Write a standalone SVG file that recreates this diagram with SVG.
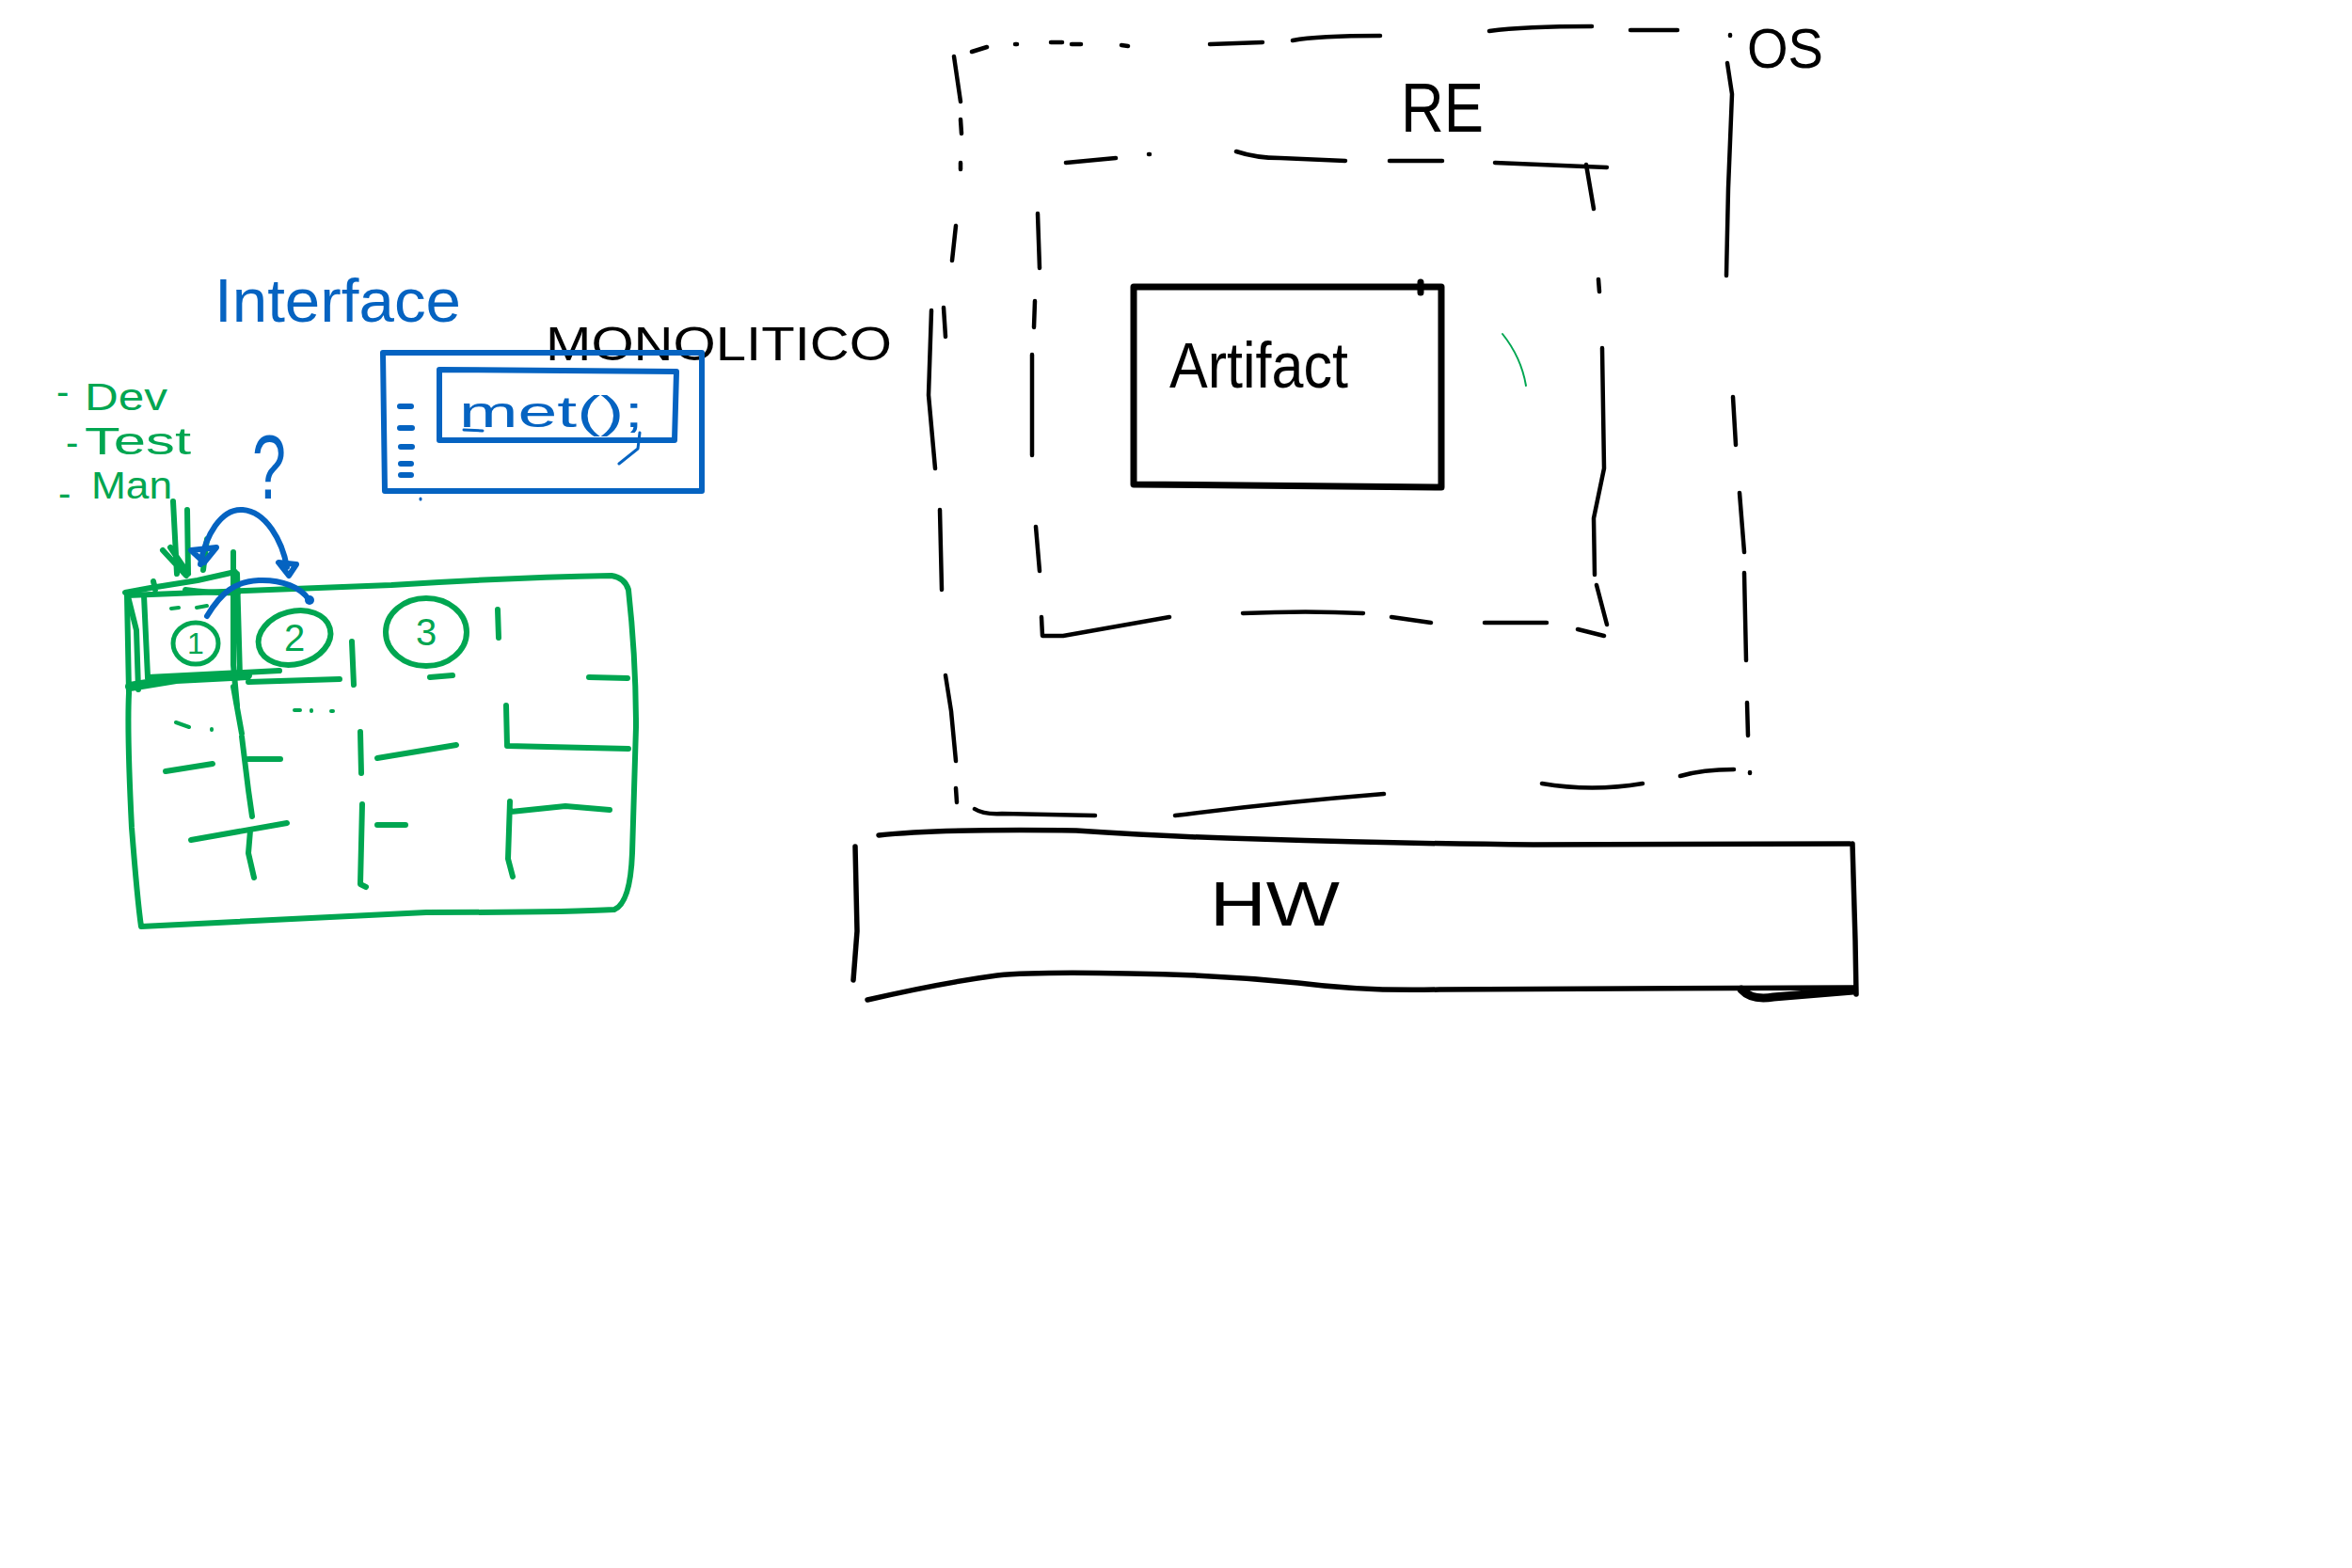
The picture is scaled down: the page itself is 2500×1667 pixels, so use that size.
<svg xmlns="http://www.w3.org/2000/svg" width="2500" height="1667" viewBox="0 0 2500 1667">
<style>
.k{fill:none;stroke:#000;stroke-width:4.5;stroke-linecap:round;stroke-linejoin:round}
.kt{fill:none;stroke:#000;stroke-width:7;stroke-linecap:round;stroke-linejoin:round}
.g{fill:none;stroke:#00a651;stroke-width:6;stroke-linecap:round;stroke-linejoin:round}
.gt{fill:none;stroke:#00a651;stroke-width:10;stroke-linecap:round;stroke-linejoin:round}
.gs{fill:none;stroke:#00a651;stroke-width:4;stroke-linecap:round}
.b{fill:none;stroke:#0563c1;stroke-width:6;stroke-linecap:round;stroke-linejoin:round}
.bs{fill:none;stroke:#0563c1;stroke-width:3;stroke-linecap:round;stroke-linejoin:round}
.tk{font-family:"Liberation Sans",Arial,sans-serif;fill:#000}
.tb{font-family:"Liberation Sans",Arial,sans-serif;fill:#0563c1}
.tg{font-family:"Liberation Sans",Arial,sans-serif;fill:#00a651}
</style>
<rect width="2500" height="1667" fill="#fff"/>

<g id="os">
<path class="k" d="M1033,55 L1049,50 M1079,47 L1081,47 M1117,45 L1129,45 M1139,47 L1149,47 M1192,48 L1199,49 M1286,47 Q1315,46 1342,45 M1374,43 Q1400,38 1467,38 M1583,33 Q1620,28 1692,28 M1733,32 L1783,32"/>
<path class="k" d="M1839,37 L1839,38 M1836,67 L1841,100 L1837,200 L1835,293 M1842,422 L1845,473 M1849,524 L1854,587 M1854,609 L1856,702 M1857,747 L1858,782"/>
<path class="k" d="M1860,821 L1860,822 M1786,825 Q1810,818 1843,818 M1639,833 Q1692,842 1746,833 M1249,867 Q1360,853 1471,844 M1036,860 Q1045,866 1065,865 L1164,867 M1016,838 L1017,853"/>
<path class="k" d="M1005,718 L1011,756 L1016,809 M999,542 L1001,627 M990,330 L987,420 L994,498 M1003,327 L1005,358 M1016,240 L1012,277 M1021,173 L1021,180 M1021,127 L1022,142 M1014,60 L1021,108"/>
<text class="tk" x="1857" y="72" font-size="60" textLength="81" lengthAdjust="spacingAndGlyphs">OS</text>
</g>

<g id="re">
<path class="k" d="M1133,173 L1186,168 M1221,164 L1222,164 M1314,161 Q1335,168 1361,168 L1430,171 M1477,171 L1533,171 M1589,173 L1708,178"/>
<path class="k" d="M1686,175 L1694,222 M1699,297 L1700,310 M1703,370 L1705,498 L1694,551 L1695,611 M1697,622 L1708,664"/>
<path class="k" d="M1107,656 L1108,676 L1130,676 L1243,656 M1321,652 Q1390,649 1449,652 M1479,656 L1521,662 M1578,662 L1644,662 M1677,669 L1705,676"/>
<path class="k" d="M1103,227 L1105,285 M1100,320 L1099,348 M1097,377 L1097,484 M1101,560 L1105,607"/>
<text class="tk" x="1489" y="140" font-size="74" textLength="88" lengthAdjust="spacingAndGlyphs">RE</text>
</g>

<g id="artifact">
<path class="kt" d="M1205,305 L1532,305 L1532,518 L1205,515 Z M1510,300 L1510,311"/>
<text class="tk" x="1243" y="412" font-size="68" textLength="190" lengthAdjust="spacingAndGlyphs">Artifact</text>
<path fill="none" stroke="#00a651" stroke-width="2" stroke-linecap="round" d="M1597,355 Q1617,380 1622,410"/>
</g>

<g id="hw">
<path fill="none" stroke="#000" stroke-width="5.5" stroke-linecap="round" stroke-linejoin="round" d="M934,888 Q1000,881 1144,883 Q1250,890 1337,892 Q1500,897 1630,898 L1966,897 M909,900 L911,990 L907,1042 M1969,897 L1972,1000 L1973,1057 M922,1063 Q1000,1045 1060,1037 Q1100,1033 1200,1035 Q1290,1036 1380,1045 Q1450,1054 1530,1052 L1970,1050"/>
<path fill="none" stroke="#000" stroke-width="9" stroke-linecap="round" d="M1851,1052 Q1862,1064 1885,1060 L1970,1053"/>
<text class="tk" x="1286" y="984" font-size="66" textLength="138" lengthAdjust="spacingAndGlyphs">HW</text>
</g>

<g id="monolitico">
<text class="tk" x="580" y="383" font-size="50" textLength="368" lengthAdjust="spacingAndGlyphs">MONOLITICO</text>
</g>

<g id="interface">
<text class="tb" x="228" y="342" font-size="64" textLength="262" lengthAdjust="spacingAndGlyphs">Interface</text>
<path class="b" d="M407,375 L746,375 L746,522 L409,522 Z"/>
<path class="b" d="M467,393 L719,395 L717,468 L467,468 Z"/>
<path class="b" stroke-width="5" d="M425,432 L437,432 M425,455 L438,455 M426,475 L438,475 M426,493 L437,493 M426,505 L437,505"/>
<path class="bs" d="M447,530 L447,531 M680,460 L678,477 L658,493 M493,457 L513,458"/>
<text class="tb" x="488" y="454" font-size="46" textLength="196" lengthAdjust="spacingAndGlyphs">met();</text>
</g>

<g id="roles">
<text class="tg" font-size="40"><tspan x="60" y="430">-</tspan><tspan x="90" y="436" textLength="88" lengthAdjust="spacingAndGlyphs">Dev</tspan></text>
<text class="tg" font-size="40"><tspan x="70" y="484">-</tspan><tspan x="90" y="483" textLength="113" lengthAdjust="spacingAndGlyphs">Test</tspan></text>
<text class="tg" font-size="40"><tspan x="62" y="538">-</tspan><tspan x="97" y="530" textLength="86" lengthAdjust="spacingAndGlyphs">Man</tspan></text>
</g>

<g id="question">
<text class="tb" x="268" y="530" font-size="96" textLength="36" lengthAdjust="spacingAndGlyphs">?</text>
</g>

<g id="table">
<path class="g" d="M135,633 Q260,628 416,622 Q540,614 650,612 Q664,614 668,627 Q676,700 676,773 L672,907 Q670,960 653,967 Q601,970 453,970 Q305,977 150,985 Q146,957 140,880 Q135,780 137,737 Z"/>
<path class="g" d="M133,630 L160,625 L210,617 L250,608 M197,627 Q230,631 253,630 M135,630 L145,670 L147,733 M153,633 L157,720 M163,618 L165,627"/>
<path class="g" stroke-width="7" d="M248,587 L248,707 L252,750 M252,610 L255,720"/>
<path class="gt" d="M138,730 L187,722 L263,718"/>
<path class="g" d="M157,720 L297,713 M264,725 L361,722"/>
<path class="g" d="M248,730 L257,780 M257,783 L264,840 L268,868 M266,883 L264,907 L270,933 M374,682 L376,728 M457,720 L481,718 M529,648 L530,678 M626,720 L667,721 M176,820 L226,812 M264,807 L298,807 M383,778 L384,822 M401,806 L485,792 M538,750 L539,793 L668,796 M203,893 L305,875 M385,855 L383,940 L389,943 M401,877 L431,877 M542,852 L540,913 L545,932 M543,863 L601,857 L648,861"/>
<path class="gs" d="M182,647 L190,646 M209,646 L220,644 M313,755 L319,755 M331,755 L331,756 M352,756 L354,756 M187,768 L201,773 M225,775 L225,776"/>
<g id="cell1">
<ellipse cx="208" cy="684" rx="24" ry="22" fill="none" stroke="#00a651" stroke-width="5"/>
<text class="tg" x="208" y="695" font-size="32" text-anchor="middle">1</text>
</g>
<g id="cell2">
<ellipse cx="313" cy="678" rx="39" ry="28" transform="rotate(-15 313 678)" fill="none" stroke="#00a651" stroke-width="6"/>
<text class="tg" x="313" y="692" font-size="40" text-anchor="middle">2</text>
</g>
<g id="cell3">
<ellipse cx="453" cy="672" rx="43" ry="36" fill="none" stroke="#00a651" stroke-width="6"/>
<text class="tg" x="453" y="686" font-size="40" text-anchor="middle">3</text>
</g>
</g>

<g id="connectors">
<path class="g" d="M184,533 L188,610 M199,542 L200,610 M173,585 L198,612 M181,582 L200,610 M220,573 L216,606"/>
<path class="b" d="M213,600 C218,570 235,540 258,542 C283,544 300,575 305,603"/>
<path class="b" stroke-width="5" d="M203,585 L230,582 L217,598 Z M296,598 L315,600 L307,612 Z"/>
<path class="b" stroke-width="5" d="M220,655 C235,630 250,618 275,617 C300,616 320,625 328,637"/>
<circle cx="329" cy="638" r="5" fill="#0563c1"/>
</g>
</svg>
